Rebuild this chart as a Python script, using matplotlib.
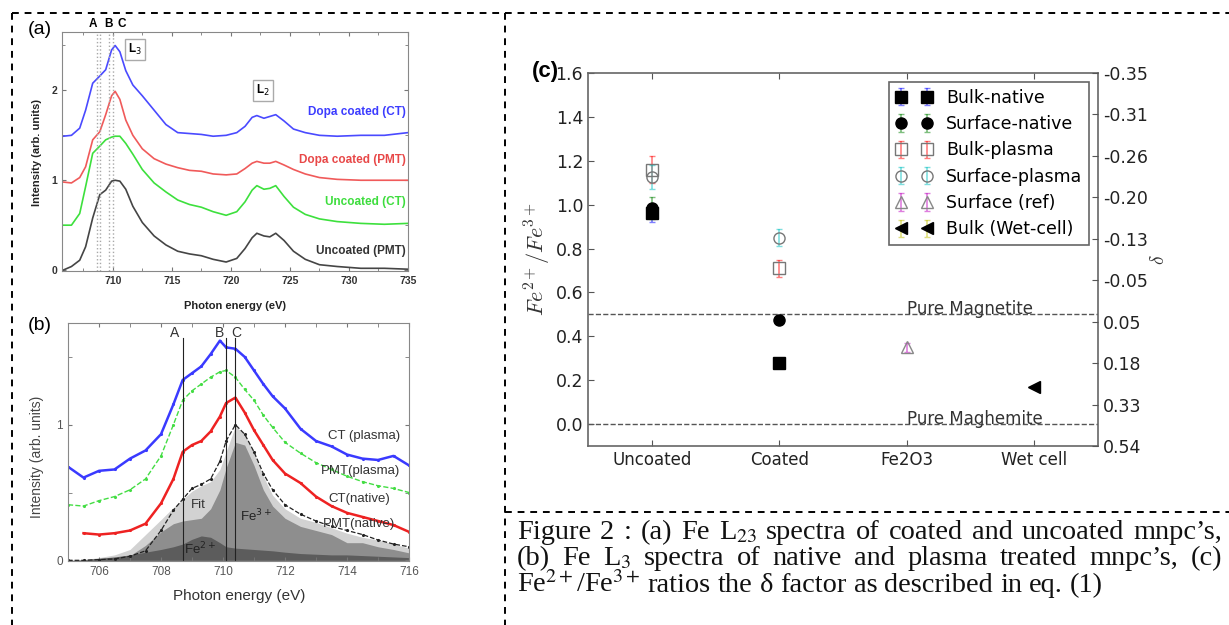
import numpy as np
import matplotlib
matplotlib.use('Agg')
import matplotlib.pyplot as plt
from matplotlib.lines import Line2D
from matplotlib.ticker import MultipleLocator, FixedLocator

# ---------------- data: panel (a) Fe L23 spectra ----------------
energy_a = [705.8, 706.5, 707.2, 707.7, 708.3, 708.9, 709.4, 709.9, 710.2, 710.6,
            711.1, 711.7, 712.5, 713.5, 714.5, 715.5, 716.5, 717.5, 718.5, 719.6,
            720.5, 721.2, 721.8, 722.2, 722.8, 723.3, 723.8, 724.5, 725.3, 726.3,
            727.5, 729.0, 731.0, 733.0, 735.0]
uncoated_pmt = [0.00, 0.04, 0.11, 0.26, 0.58, 0.84, 0.89, 0.99, 1.00, 0.99,
                0.90, 0.71, 0.53, 0.38, 0.28, 0.21, 0.18, 0.16, 0.12, 0.09,
                0.13, 0.24, 0.36, 0.41, 0.38, 0.37, 0.41, 0.33, 0.21, 0.12,
                0.06, 0.04, 0.02, 0.02, 0.01]
uncoated_ct = [0.50, 0.50, 0.63, 0.93, 1.30, 1.38, 1.45, 1.48, 1.49, 1.49,
               1.41, 1.29, 1.12, 0.97, 0.87, 0.78, 0.73, 0.70, 0.65, 0.61,
               0.65, 0.76, 0.89, 0.94, 0.90, 0.91, 0.94, 0.82, 0.70, 0.62,
               0.57, 0.54, 0.52, 0.51, 0.52]
dopa_pmt = [0.98, 0.97, 1.03, 1.15, 1.45, 1.54, 1.73, 1.94, 1.99, 1.90,
            1.67, 1.50, 1.35, 1.24, 1.18, 1.14, 1.11, 1.10, 1.07, 1.06,
            1.07, 1.13, 1.19, 1.21, 1.19, 1.19, 1.21, 1.17, 1.12, 1.07,
            1.03, 1.01, 1.00, 1.00, 1.00]
dopa_ct = [1.49, 1.50, 1.58, 1.78, 2.08, 2.16, 2.23, 2.45, 2.50, 2.43,
           2.22, 2.06, 1.94, 1.78, 1.62, 1.53, 1.52, 1.51, 1.49, 1.50,
           1.53, 1.60, 1.70, 1.72, 1.69, 1.71, 1.73, 1.66, 1.57, 1.53,
           1.50, 1.49, 1.50, 1.50, 1.53]
series_a_labels = ['Dopa coated (CT)', 'Dopa coated (PMT)', 'Uncoated (CT)', 'Uncoated (PMT)']
series_a_label_y = [1.76, 1.23, 0.76, 0.21]
abc_lines_a = [708.7, 708.9, 709.7, 710.05]
abc_labels_a = ['A', 'B', 'C']
abc_label_x_a = [708.3, 709.6, 710.8]

# ---------------- data: panel (b) Fe L3 spectra ----------------
energy_b = [705.0, 705.5, 706.0, 706.5, 707.0, 707.5, 708.0, 708.4, 708.7, 709.0,
            709.3, 709.6, 709.9, 710.1, 710.4, 710.7, 711.0, 711.3, 711.6, 712.0,
            712.5, 713.0, 713.5, 714.0, 714.5, 715.0, 715.5, 716.0]
ct_plasma = [0.69, 0.61, 0.66, 0.67, 0.75, 0.81, 0.93, 1.15, 1.33, 1.38,
             1.43, 1.52, 1.62, 1.57, 1.56, 1.50, 1.40, 1.30, 1.21, 1.12,
             0.97, 0.88, 0.84, 0.78, 0.75, 0.74, 0.77, 0.70]
pmt_plasma = [0.41, 0.40, 0.44, 0.47, 0.52, 0.60, 0.77, 1.00, 1.18, 1.25,
              1.30, 1.35, 1.39, 1.40, 1.35, 1.26, 1.18, 1.07, 0.98, 0.87,
              0.79, 0.72, 0.67, 0.62, 0.58, 0.55, 0.53, 0.50]
ct_native = [np.nan, 0.20, 0.19, 0.20, 0.22, 0.27, 0.42, 0.60, 0.80, 0.85,
             0.88, 0.95, 1.06, 1.16, 1.20, 1.09, 0.96, 0.85, 0.74, 0.64,
             0.57, 0.47, 0.40, 0.35, 0.32, 0.29, 0.26, 0.21]
pmt_native = [0.00, 0.00, 0.005, 0.01, 0.03, 0.07, 0.22, 0.37, 0.45, 0.53,
              0.56, 0.60, 0.73, 0.88, 1.00, 0.93, 0.80, 0.64, 0.52, 0.41,
              0.34, 0.29, 0.25, 0.22, 0.19, 0.15, 0.12, 0.10]
fit_total = [0.00, 0.005, 0.02, 0.04, 0.08, 0.19, 0.30, 0.39, 0.45, 0.51,
             0.55, 0.58, 0.67, 0.80, 0.99, 0.93, 0.80, 0.62, 0.48, 0.38,
             0.31, 0.28, 0.24, 0.20, 0.17, 0.15, 0.12, 0.09]
fe3_comp = [0.00, 0.00, 0.005, 0.015, 0.035, 0.11, 0.21, 0.27, 0.29, 0.30,
            0.31, 0.38, 0.52, 0.68, 0.87, 0.85, 0.70, 0.52, 0.40, 0.31,
            0.25, 0.22, 0.19, 0.13, 0.13, 0.10, 0.08, 0.055]
fe2_comp = [0.00, 0.005, 0.015, 0.025, 0.04, 0.06, 0.08, 0.10, 0.12, 0.155,
            0.18, 0.17, 0.13, 0.10, 0.09, 0.085, 0.08, 0.075, 0.07, 0.06,
            0.05, 0.045, 0.04, 0.04, 0.035, 0.03, 0.025, 0.02]
abc_lines_b = [708.7, 710.1, 710.4]
abc_label_x_b = [708.45, 709.88, 710.42]

# ---------------- data: panel (c) ratios ----------------
categories = ['Uncoated', 'Coated', 'Fe2O3', 'Wet cell']
bulk_native = [0.96, 0.28]
bulk_native_err = [0.04, 0.01]
surface_native = [0.985, 0.475]
surface_native_err = [0.05, 0.01]
bulk_plasma = [1.16, 0.71]
bulk_plasma_err = [0.06, 0.04]
surface_plasma = [1.125, 0.85]
surface_plasma_err = [0.055, 0.04]
surface_ref = [0.35]
surface_ref_err = [0.02]
bulk_wetcell = [0.17]
bulk_wetcell_err = [0.005]
pure_magnetite = 0.5
pure_maghemite = 0.0
delta_labels = ['0.54', '0.33', '0.18', '0.05', '-0.05', '-0.13', '-0.20', '-0.26', '-0.31', '-0.35']

# ---------------- figure ----------------
W, H = 1229, 625
fig = plt.figure(figsize=(W / 100, H / 100), dpi=100)


def rect(x0, y0, x1, y1):
    return [x0 / W, 1 - y1 / H, (x1 - x0) / W, (y1 - y0) / H]


def fx(x):
    return x / W


def fy(y):
    return 1 - y / H


SANS = 'Liberation Sans'

# dashed frame lines
dash_kw = dict(color='black', lw=1.4, ls=(0, (3.5, 3)), transform=fig.transFigure)
for (x0, y0, x1, y1) in [(12, 13, 1229, 13), (12, 13, 12, 625), (505, 13, 505, 625), (505, 512, 1229, 512)]:
    fig.add_artist(Line2D([fx(x0), fx(x1)], [fy(y0), fy(y1)], **dash_kw))

# ================= panel (a) =================
axa = fig.add_axes(rect(62, 32, 408, 271))
cols_a = ['#4a4aff', '#f05a5a', '#3de03d', '#454545']
for ys, c in zip([dopa_ct, dopa_pmt, uncoated_ct, uncoated_pmt], cols_a):
    axa.plot(energy_a, ys, color=c, lw=1.2)
for xv in abc_lines_a:
    axa.axvline(xv, color='#a8a8a8', ls=':', lw=1.0)
axa.set_xlim(705.7, 735)
axa.set_ylim(-0.01, 2.65)
axa.xaxis.set_major_locator(MultipleLocator(5))
axa.xaxis.set_minor_locator(MultipleLocator(2.5))
axa.yaxis.set_major_locator(MultipleLocator(1))
axa.yaxis.set_minor_locator(MultipleLocator(0.5))
axa.tick_params(which='both', direction='in', top=True, right=True, color='#777',
                labelcolor='#333', labelsize=7.5, length=3)
axa.tick_params(which='minor', length=2)
for lab in axa.get_xticklabels() + axa.get_yticklabels():
    lab.set_fontweight('bold')
    lab.set_family(SANS)
for sp in axa.spines.values():
    sp.set_color('#888')
label_cols_a = ['#3c3cff', '#e84848', '#3ddd3d', '#333333']
for lab, yv, c in zip(series_a_labels, series_a_label_y, label_cols_a):
    axa.text(734.8, yv, lab, color=c, fontsize=8.5, fontweight='bold', family=SANS,
             ha='right', va='center')
for lab, xv in zip(abc_labels_a, abc_label_x_a):
    axa.text(xv, 1.035, lab, transform=axa.get_xaxis_transform(), fontsize=8.5,
             fontweight='bold', family=SANS, ha='center', va='center', clip_on=False)
box_kw = dict(boxstyle='square,pad=0.25', fc='white', ec='#aaa', lw=1.0)
axa.text(711.9, 2.46, r'L$_3$', fontsize=8.5, fontweight='bold', family=SANS,
         ha='center', va='center', bbox=box_kw)
axa.text(722.7, 2.0, r'L$_2$', fontsize=8.5, fontweight='bold', family=SANS,
         ha='center', va='center', bbox=box_kw)
fig.text(fx(235), fy(306), 'Photon energy (eV)', fontsize=8, fontweight='bold',
         family=SANS, ha='center', va='center', color='#222')
fig.text(fx(37), fy(152), 'Intensity (arb. units)', fontsize=8, fontweight='bold',
         family=SANS, ha='center', va='center', rotation=90, color='#222')
fig.text(fx(40), fy(30), '(a)', fontsize=14, family=SANS, ha='center', va='center')

# ================= panel (b) =================
axb = fig.add_axes(rect(68, 323, 409, 561))
axb.fill_between(energy_b, 0, fit_total, color='#d2d2d2', lw=0)
axb.fill_between(energy_b, 0, fe3_comp, color='#8e8e8e', lw=0)
axb.fill_between(energy_b, 0, fe2_comp, color='#5c5c5c', lw=0)
axb.plot(energy_b, ct_plasma, color='#3a3aff', lw=1.8, marker='.', ms=2.5)
axb.plot(energy_b, pmt_plasma, color='#44dd44', lw=1.0, ls='--', marker='.', ms=2.5)
axb.plot(energy_b, ct_native, color='#ee2222', lw=1.8, marker='.', ms=2.5)
axb.plot(energy_b, pmt_native, color='#222222', lw=0.9, ls='--', marker='.', ms=2.5)
for xv in abc_lines_b:
    axb.plot([xv, xv], [0, 1.64], color='#222', lw=0.8)
for lab, xv in zip(abc_labels_a, abc_label_x_b):
    axb.text(xv, 1.675, lab, fontsize=10, family=SANS, ha='center', va='center', color='#333')
axb.set_xlim(705, 716)
axb.set_ylim(-0.005, 1.75)
axb.xaxis.set_major_locator(MultipleLocator(2))
axb.xaxis.set_minor_locator(MultipleLocator(1))
axb.yaxis.set_major_locator(FixedLocator([0, 1]))
axb.yaxis.set_minor_locator(FixedLocator([0.5, 1.5]))
axb.tick_params(which='both', direction='in', top=True, right=True, color='#777',
                labelcolor='#555', labelsize=8.5, length=3)
for lab in axb.get_xticklabels() + axb.get_yticklabels():
    lab.set_family(SANS)
for sp in axb.spines.values():
    sp.set_color('#888')
curve_labels_b = ['CT (plasma)', 'PMT(plasma)', 'CT(native)', 'PMT(native)']
curve_label_pos_b = [(714.55, 0.92), (714.45, 0.66), (714.4, 0.45), (714.4, 0.27)]
for lab, (xv, yv) in zip(curve_labels_b, curve_label_pos_b):
    axb.text(xv, yv, lab, fontsize=9.5, family=SANS, ha='center', va='center', color='#333')
axb.text(709.2, 0.41, 'Fit', fontsize=9.5, family=SANS, ha='center', va='center', color='#333')
axb.text(711.05, 0.33, r'Fe$^{3+}$', fontsize=9.5, family=SANS, ha='center', va='center', color='#222')
axb.text(709.25, 0.08, r'Fe$^{2+}$', fontsize=9.5, family=SANS, ha='center', va='center', color='#222')
fig.text(fx(239), fy(596), 'Photon energy (eV)', fontsize=11, family=SANS,
         ha='center', va='center', color='#333')
fig.text(fx(37), fy(457), 'Intensity (arb. units)', fontsize=10, family=SANS,
         ha='center', va='center', rotation=90, color='#444')
fig.text(fx(40), fy(325), '(b)', fontsize=14, family=SANS, ha='center', va='center')

# ================= panel (c) =================
axc = fig.add_axes(rect(588, 73, 1098, 446))
xpos = np.arange(len(categories))
ms = 8
eb_kw = dict(elinewidth=1.2, capsize=2, capthick=1, ms=ms, ls='none')
axc.errorbar(xpos[:2], bulk_native, yerr=bulk_native_err, fmt='s', mfc='k', mec='k',
             ecolor=(0, 0, 1, 0.5), label='Bulk-native', **eb_kw)
axc.errorbar(xpos[:2], surface_native, yerr=surface_native_err, fmt='o', mfc='k', mec='k',
             ecolor=(0, 0.5, 0, 0.5), label='Surface-native', **eb_kw)
axc.errorbar(xpos[:2], bulk_plasma, yerr=bulk_plasma_err, fmt='s', mfc='none', mec='#777',
             ecolor=(1, 0, 0, 0.5), label='Bulk-plasma', **eb_kw)
axc.errorbar(xpos[:2], surface_plasma, yerr=surface_plasma_err, fmt='o', mfc='none', mec='#777',
             ecolor=(0, 0.75, 0.75, 0.5), label='Surface-plasma', **eb_kw)
axc.errorbar(xpos[2:3], surface_ref, yerr=surface_ref_err, fmt='^', mfc='none', mec='#888',
             ecolor=(0.75, 0, 0.75, 0.5), label='Surface (ref)', **eb_kw)
axc.errorbar(xpos[3:4], bulk_wetcell, yerr=bulk_wetcell_err, fmt='<', mfc='k', mec='k',
             ecolor=(0.75, 0.75, 0, 0.5), label='Bulk (Wet-cell)', **eb_kw)
axc.axhline(pure_magnetite, color='#555', ls='--', lw=1.0)
axc.axhline(pure_maghemite, color='#555', ls='--', lw=1.0)
axc.text(xpos[2], pure_magnetite, 'Pure Magnetite', fontsize=12, color='#333',
         ha='left', va='baseline')
axc.text(xpos[2], pure_maghemite, 'Pure Maghemite', fontsize=12, color='#333',
         ha='left', va='baseline')
axc.set_xlim(-0.5, 3.5)
axc.set_ylim(-0.1, 1.6)
axc.set_xticks(xpos)
axc.set_xticklabels(categories)
axc.yaxis.set_major_locator(MultipleLocator(0.2))
axc.tick_params(direction='in', top=True, right=False, labelsize=12.5, color='#555',
                labelcolor='#222', length=4)
axc.tick_params(axis='x', labelsize=12)
for sp in axc.spines.values():
    sp.set_color('#666')
    sp.set_linewidth(1.2)
leg = axc.legend(loc='upper right', numpoints=2, fontsize=12.5, fancybox=False,
                 edgecolor='#666', handlelength=2.1, handletextpad=0.8, borderpad=0.4,
                 labelspacing=0.48, borderaxespad=0.5, framealpha=1)
leg.get_frame().set_linewidth(1.2)
axc.set_ylabel(r'$Fe^{2+}/Fe^{3+}$', fontsize=16, math_fontfamily='cm', labelpad=2, color='#333')

axr = axc.twinx()
axr.set_ylim(axc.get_ylim())
axr.set_yticks(np.linspace(-0.1, 1.6, len(delta_labels)))
axr.set_yticklabels(delta_labels)
axr.tick_params(direction='in', labelsize=12.5, color='#555', labelcolor='#222', length=4)
for sp in axr.spines.values():
    sp.set_visible(False)
axr.set_ylabel(r'$\delta$', fontsize=14, math_fontfamily='cm', color='#333', labelpad=1)
fig.text(fx(545), fy(71), '(c)', fontsize=16, fontweight='bold', family=SANS,
         ha='center', va='center')

# ================= caption =================
SERIF = 'Liberation Serif'
cap_fs = 20.4
renderer = fig.canvas.get_renderer()


def place_line(words, x0, x1, ybase, justify=True):
    texts = [fig.text(0, 0, w, fontsize=cap_fs, family=SERIF, math_fontfamily='stix',
                      ha='left', va='baseline', color='#111') for w in words]
    widths = [t.get_window_extent(renderer).width for t in texts]
    space = cap_fs * 100 / 72 * 0.25
    if justify and len(words) > 1:
        gap = max((x1 - x0 - sum(widths)) / (len(words) - 1), space * 0.5)
    else:
        gap = space
    x = x0
    for t, w in zip(texts, widths):
        t.set_position((fx(x), fy(ybase)))
        x += w + gap


caption_lines = [
    'Figure 2 : (a) Fe L$_{23}$ spectra of coated and uncoated mnpc\u2019s,',
    '(b) Fe L$_3$ spectra of native and plasma treated mnpc\u2019s, (c)',
    'Fe$^{2+}$/Fe$^{3+}$ ratios the \u03b4 factor as described in eq. (1)',
]
place_line(caption_lines[0].split(' '), 517, 1222, 539)
place_line(caption_lines[1].split(' '), 517, 1222, 565)
place_line(caption_lines[2].split(' '), 517, 1222, 592, justify=False)

fig.savefig('out.png', dpi=100)
